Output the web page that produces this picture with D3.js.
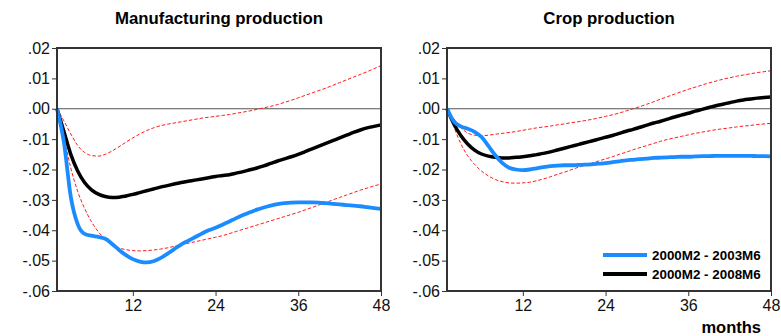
<!DOCTYPE html>
<html>
<head>
<meta charset="utf-8">
<script src="https://cdn.jsdelivr.net/npm/d3@7/dist/d3.min.js"></script>
<style>
  body { margin: 0; background: #fff; }
  svg { display: block; font-family: "Liberation Sans", Arial, sans-serif; }
  .title { font-weight: bold; font-size: 16.8px; }
  .axis text { font-size: 16px; fill: #111; }
  .axis path, .axis line { stroke: #333; }
</style>
</head>
<body>
<div id="chart"></div>
<script>
// horizon, months 1..48
const months = d3.range(1, 49);
const xTicks = [12, 24, 36, 48];
const yTicks = [0.02, 0.01, 0, -0.01, -0.02, -0.03, -0.04, -0.05, -0.06];
const legendLabels = ["2000M2 - 2003M6", "2000M2 - 2008M6"];

// Manufacturing production
const manuShort = [0, -0.011, -0.029, -0.038, -0.0412, -0.0418, -0.0422, -0.0428, -0.0445, -0.0465,
  -0.0482, -0.0495, -0.0503, -0.0506, -0.0502, -0.0492, -0.0478, -0.0462, -0.0447, -0.0435,
  -0.0423, -0.0411, -0.0400, -0.0392, -0.0382, -0.0371, -0.0360, -0.0350, -0.0341, -0.0332,
  -0.0325, -0.0319, -0.0314, -0.0311, -0.0309, -0.0308, -0.0308, -0.0308, -0.0309, -0.0311,
  -0.0313, -0.0315, -0.0317, -0.0319, -0.0321, -0.0324, -0.0327, -0.0330];
const manuLong = [0, -0.0075, -0.0150, -0.0205, -0.0243, -0.0267, -0.0281, -0.0289, -0.0292, -0.0291,
  -0.0287, -0.0282, -0.0276, -0.0270, -0.0264, -0.0258, -0.0253, -0.0248, -0.0243, -0.0239,
  -0.0235, -0.0231, -0.0227, -0.0223, -0.0220, -0.0217, -0.0212, -0.0207, -0.0201, -0.0195,
  -0.0188, -0.0180, -0.0172, -0.0165, -0.0158, -0.0150, -0.0141, -0.0132, -0.0123, -0.0114,
  -0.0105, -0.0096, -0.0087, -0.0078, -0.0070, -0.0063, -0.0058, -0.0053];
const manuUpper = [0, -0.0040, -0.0083, -0.0121, -0.0144, -0.0154, -0.0156, -0.0150, -0.0139, -0.0125,
  -0.0110, -0.0096, -0.0083, -0.0072, -0.0063, -0.0056, -0.0051, -0.0047, -0.0043, -0.0039,
  -0.0035, -0.0031, -0.0028, -0.0025, -0.0022, -0.0019, -0.0015, -0.0011, -0.0007, -0.0002,
  0.0003, 0.0008, 0.0014, 0.0021, 0.0028, 0.0036, 0.0044, 0.0052, 0.0060, 0.0068,
  0.0077, 0.0086, 0.0095, 0.0104, 0.0113, 0.0122, 0.0132, 0.0142];
const manuLower = [0, -0.0095, -0.0195, -0.0272, -0.0328, -0.0372, -0.0405, -0.0430, -0.0447, -0.0458,
  -0.0464, -0.0467, -0.0468, -0.0467, -0.0465, -0.0462, -0.0458, -0.0453, -0.0448, -0.0443,
  -0.0438, -0.0433, -0.0428, -0.0423, -0.0418, -0.0411, -0.0404, -0.0397, -0.0390, -0.0383,
  -0.0376, -0.0369, -0.0362, -0.0355, -0.0348, -0.0341, -0.0333, -0.0325, -0.0317, -0.0309,
  -0.0300, -0.0292, -0.0284, -0.0276, -0.0268, -0.0261, -0.0254, -0.0248];

// Crop production
const cropShort = [0, -0.0042, -0.0058, -0.0066, -0.0076, -0.0093, -0.0122, -0.0153, -0.0178, -0.0194,
  -0.0200, -0.0202, -0.0200, -0.0196, -0.0192, -0.0189, -0.0187, -0.0186, -0.0186, -0.0185,
  -0.0184, -0.0183, -0.0181, -0.0179, -0.0176, -0.0173, -0.0170, -0.0168, -0.0166, -0.0164,
  -0.0162, -0.0161, -0.0160, -0.0159, -0.0158, -0.0158, -0.0157, -0.0156, -0.0156, -0.0155,
  -0.0155, -0.0155, -0.0155, -0.0155, -0.0155, -0.0156, -0.0156, -0.0157];
const cropLong = [0, -0.0050, -0.0088, -0.0116, -0.0136, -0.0149, -0.0156, -0.0160, -0.0162, -0.0162,
  -0.0160, -0.0158, -0.0155, -0.0151, -0.0147, -0.0142, -0.0136, -0.0130, -0.0124, -0.0118,
  -0.0112, -0.0106, -0.0100, -0.0094, -0.0088, -0.0081, -0.0074, -0.0068, -0.0061, -0.0054,
  -0.0047, -0.0041, -0.0034, -0.0027, -0.0021, -0.0015, -0.0008, -0.0002, 0.0004, 0.0010,
  0.0015, 0.0020, 0.0025, 0.0029, 0.0032, 0.0035, 0.0037, 0.0039];
const cropUpper = [0, -0.0033, -0.0062, -0.0080, -0.0087, -0.0089, -0.0087, -0.0084, -0.0081, -0.0078,
  -0.0075, -0.0071, -0.0067, -0.0063, -0.0060, -0.0057, -0.0053, -0.0050, -0.0046, -0.0043,
  -0.0039, -0.0035, -0.0030, -0.0025, -0.0020, -0.0014, -0.0007, 0.0000, 0.0007, 0.0015,
  0.0023, 0.0032, 0.0040, 0.0048, 0.0056, 0.0064, 0.0071, 0.0078, 0.0085, 0.0091,
  0.0097, 0.0102, 0.0107, 0.0111, 0.0115, 0.0119, 0.0122, 0.0125];
const cropLower = [0, -0.0060, -0.0115, -0.0155, -0.0183, -0.0205, -0.0221, -0.0233, -0.0240, -0.0244,
  -0.0245, -0.0244, -0.0242, -0.0237, -0.0231, -0.0224, -0.0216, -0.0209, -0.0201, -0.0193,
  -0.0186, -0.0179, -0.0172, -0.0165, -0.0158, -0.0150, -0.0143, -0.0135, -0.0128, -0.0121,
  -0.0114, -0.0107, -0.0101, -0.0096, -0.0091, -0.0086, -0.0081, -0.0077, -0.0073, -0.0069,
  -0.0066, -0.0063, -0.0060, -0.0057, -0.0055, -0.0052, -0.0050, -0.0048];

const panels = [
  { title: "Manufacturing production", left: 57, short: manuShort, long: manuLong, upper: manuUpper, lower: manuLower },
  { title: "Crop production", left: 447, short: cropShort, long: cropLong, upper: cropUpper, lower: cropLower, legend: true }
];

const width = 781;
const height = 336;
const plotW = 324;
const plotTop = 48, plotBottom = 291;
const blue = "#1a8cff";

const svg = d3.select("#chart").append("svg")
  .attr("width", width)
  .attr("height", height);

const yScale = d3.scaleLinear().domain([-0.06, 0.02]).range([plotBottom, plotTop]);
const fmt = d => d.toFixed(2).replace(/^(-?)0\./, "$1.");

panels.forEach(p => {
  const x = d3.scaleLinear().domain([1, 48]).range([p.left, p.left + plotW]);
  const g = svg.append("g");

  g.append("text")
    .attr("class", "title")
    .attr("x", p.left + plotW / 2)
    .attr("y", 24)
    .attr("text-anchor", "middle")
    .text(p.title);

  // zero line
  g.append("line")
    .attr("x1", p.left).attr("x2", p.left + plotW)
    .attr("y1", yScale(0)).attr("y2", yScale(0))
    .attr("stroke", "#555").attr("stroke-width", 1);

  const line = d3.line()
    .x((d, i) => x(months[i]))
    .y(d => yScale(d))
    .curve(d3.curveMonotoneX);

  [p.upper, p.lower].forEach(band => {
    g.append("path")
      .datum(band)
      .attr("d", line)
      .attr("fill", "none")
      .attr("stroke", "#ff1a1a")
      .attr("stroke-width", 1)
      .attr("stroke-dasharray", "3.5,2");
  });

  g.append("path").datum(p.long).attr("d", line)
    .attr("fill", "none").attr("stroke", "#000").attr("stroke-width", 3.5)
    .attr("stroke-linejoin", "round");
  g.append("path").datum(p.short).attr("d", line)
    .attr("fill", "none").attr("stroke", blue).attr("stroke-width", 3.8)
    .attr("stroke-linejoin", "round");

  // frame
  g.append("rect")
    .attr("x", p.left).attr("y", plotTop)
    .attr("width", plotW).attr("height", plotBottom - plotTop)
    .attr("fill", "none").attr("stroke", "#333").attr("stroke-width", 2);

  g.append("g")
    .attr("class", "axis")
    .attr("transform", `translate(${p.left},0)`)
    .call(d3.axisLeft(yScale).tickValues(yTicks).tickFormat(fmt).tickSize(5).tickPadding(2))
    .call(a => a.select(".domain").remove());

  g.append("g")
    .attr("class", "axis")
    .attr("transform", `translate(0,${plotBottom})`)
    .call(d3.axisBottom(x).tickValues(xTicks).tickSize(5).tickPadding(4))
    .call(a => a.select(".domain").remove());

  if (p.legend) {
    const lg = g.append("g");
    [blue, "#000"].forEach((c, i) => {
      const ly = 255 + i * 19;
      lg.append("line")
        .attr("x1", 603).attr("x2", 647)
        .attr("y1", ly).attr("y2", ly)
        .attr("stroke", c).attr("stroke-width", 3.8);
      lg.append("text")
        .attr("x", 652).attr("y", ly + 5)
        .attr("font-size", 13.4).attr("font-weight", "bold")
        .text(legendLabels[i]);
    });
  }
});

svg.append("text")
  .attr("x", 761).attr("y", 333)
  .attr("text-anchor", "end")
  .attr("font-size", 16.5).attr("font-weight", "bold")
  .text("months");
</script>
</body>
</html>
